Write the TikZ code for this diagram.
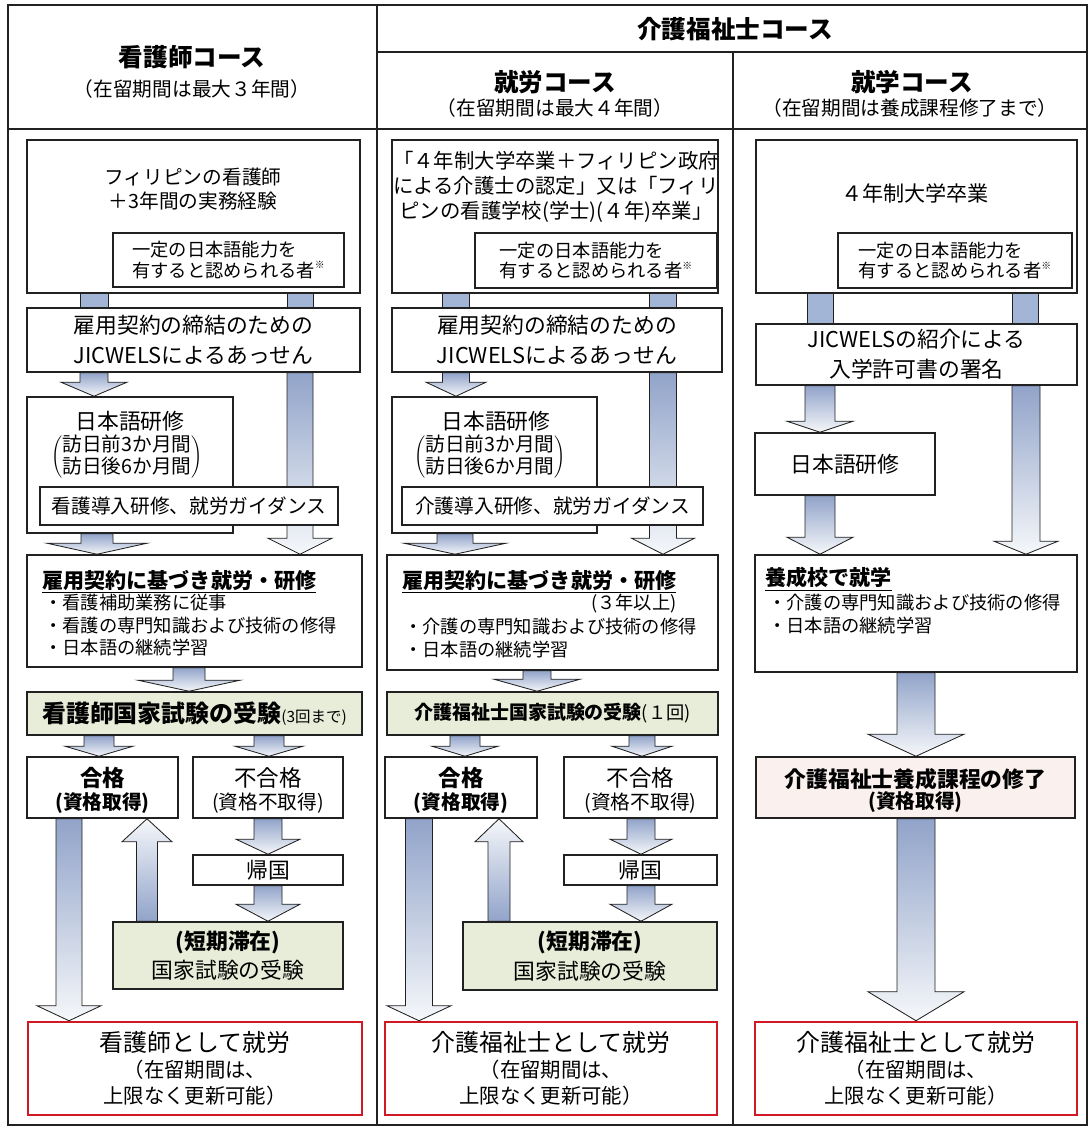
\documentclass[tikz,border=0pt]{standalone}
\usepackage{fontspec}
\setmainfont{Noto Sans CJK JP}
\usetikzlibrary{calc,fit,backgrounds}

\definecolor{lineg}{rgb}{0.13,0.13,0.13}
\definecolor{arrowdark}{rgb}{0.57,0.64,0.79}
\definecolor{arrowlight}{rgb}{0.96,0.97,0.98}
\definecolor{barblue}{rgb}{0.64,0.71,0.84}
\definecolor{examgreen}{rgb}{0.91,0.93,0.85}
\definecolor{donepink}{rgb}{0.98,0.94,0.93}
\definecolor{jobred}{rgb}{0.82,0.10,0.14}

\newcommand{\kome}{\raisebox{.45em}{\fontsize{7}{7}\selectfont ※}}
\newcommand{\downblock}[6]{\draw[blockarrow, top color=arrowdark, bottom color=arrowlight] (#1-#4,0 |- #2.south) -- ($(#1-#4,0 |- #3.north)+(0,-#6)$) -- ($(#1-#5,0 |- #3.north)+(0,-#6)$) -- (#1,0 |- #3.north) -- ($(#1+#5,0 |- #3.north)+(0,-#6)$) -- ($(#1+#4,0 |- #3.north)+(0,-#6)$) -- (#1+#4,0 |- #2.south) -- cycle;}
\newcommand{\upblock}[6]{\draw[blockarrow, top color=arrowlight, bottom color=arrowdark] (#1-#4,0 |- #2.north) -- ($(#1-#4,0 |- #3.south)+(0,#6)$) -- ($(#1-#5,0 |- #3.south)+(0,#6)$) -- (#1,0 |- #3.south) -- ($(#1+#5,0 |- #3.south)+(0,#6)$) -- ($(#1+#4,0 |- #3.south)+(0,#6)$) -- (#1+#4,0 |- #2.north) -- cycle;}
\newcommand{\linkbar}[4]{\draw[barfill] (#1-#2,0 |- #3.south) rectangle (#1+#2,0 |- #4.north);}

\begin{document}
\begin{tikzpicture}[x=0.025cm, y=-0.025cm,
    frame/.style={draw=lineg, line width=1pt},
    box/.style={draw=lineg, line width=1.1pt, fill=white, inner sep=0pt},
    greenbox/.style={box, fill=examgreen},
    pinkbox/.style={box, fill=donepink},
    jobbox/.style={box, draw=jobred, line width=1.8pt},
    txt/.style={inner sep=0pt, align=center},
    fhead/.style={font=\fontsize{17.5}{21}\selectfont\bfseries},
    fsub/.style={font=\fontsize{14}{17}\selectfont},
    fbody/.style={font=\fontsize{14}{16.5}\selectfont},
    fmid/.style={font=\fontsize{15.5}{21}\selectfont},
    fsmall/.style={font=\fontsize{13}{14.5}\selectfont},
    fitem/.style={font=\fontsize{13}{16}\selectfont},
    ftitle/.style={font=\fontsize{15}{18}\selectfont\bfseries},
    fpass/.style={font=\fontsize{16}{16.5}\selectfont\bfseries},
    ffail/.style={font=\fontsize{16}{16.5}\selectfont},
    fbrk/.style={font=\fontsize{14}{14}\selectfont},
    fjob/.style={font=\fontsize{14.5}{18.5}\selectfont},
    blockarrow/.style={draw=lineg, line width=0.6pt, line join=miter},
    barfill/.style={draw=lineg, line width=0.6pt, fill=barblue}]
\useasboundingbox (0,0) rectangle (1091,1130);
\draw[frame] (8,5) rectangle (1087,1125);
\draw[frame] (377,5) -- (377,1125) (733,52) -- (733,1125) (377,52) -- (1087,52) (8,129) -- (1087,129);
\node[txt, fhead] (nsHead) at (192,57) {看護師コース};
\node[txt, fsub] (nsTerm) at (192,89) {（在留期間は最大３年間）};
\node[txt, fhead] (cHead) at (735,29) {介護福祉士コース};
\node[txt, fhead] (cwHead) at (555,82) {就労コース};
\node[txt, fsub] (cwTerm) at (555,108) {（在留期間は最大４年間）};
\node[txt, fhead] (csHead) at (912,82) {就学コース};
\node[txt, fsub] (csTerm) at (910,108) {（在留期間は養成課程修了まで）};

\node[box, fit={(27,140) (360,293)}] (nsStart) {};
\node[txt, fbody] (nsStartText) at (193,189) {フィリピンの看護師\\＋3年間の実務経験};
\node[box, fit={(113,233) (344,287)}] (nsLang) {};
\node[txt, fsmall, align=left] (nsLangText) at (nsLang) {一定の日本語能力を\\有すると認められる者\kome};
\node[box, fit={(27,308) (360,372)}] (nsMatch) {};
\node[txt, fmid] (nsMatchText) at (nsMatch) {雇用契約の締結のための\\JICWELSによるあっせん};
\node[box, fit={(27,397) (233,533)}] (nsJp) {};
\node[txt, fmid] (nsJpText) at (130,421) {日本語研修};
\node[txt, fbrk] (nsJpTerm) at (127,457) {$\left(\begin{tabular}{@{}c@{}}訪日前3か月間\\訪日後6か月間\end{tabular}\right)$};
\node[box, fit={(40,487) (338,525)}] (nsGuide) {};
\node[txt, fbody] (nsGuideText) at (nsGuide) {看護導入研修、就労ガイダンス};
\node[box, fit={(27,555) (362,667)}] (nsWork) {};
\node[txt, ftitle, anchor=west] (nsWorkTitle) at (42,582) {\underline{雇用契約に基づき就労・研修}};
\node[txt, fitem, align=left, anchor=north west] (nsWorkItems) at (44,594) {・看護補助業務に従事\\・看護の専門知識および技術の修得\\・日本語の継続学習};
\node[greenbox, fit={(27,692) (362,735)}] (nsExam) {};
\node[txt] (nsExamText) at (nsExam) {{\fontsize{17}{20}\selectfont\bfseries 看護師国家試験の受験}{\fontsize{11}{13}\selectfont (3回まで)}};
\node[box, fit={(27,757) (178,818)}] (nsPass) {};
\node[txt, fpass] (nsPassText) at ($(nsPass)+(0,3)$) {合格\\{\fontsize{14}{16}\selectfont (資格取得)}};
\node[box, fit={(193,757) (343,818)}] (nsFail) {};
\node[txt, ffail] (nsFailText) at ($(nsFail)+(0,3)$) {不合格\\{\fontsize{14}{16}\selectfont (資格不取得)}};
\node[box, fit={(193,855) (343,885)}] (nsHome) {};
\node[txt, fmid] (nsHomeText) at (nsHome) {帰国};
\node[greenbox, fit={(113,922) (343,989)}] (nsRetry) {};
\node[txt, fmid] (nsRetryText) at (nsRetry) {{\bfseries (短期滞在)}\\国家試験の受験};
\node[jobbox, fit={(28,1022) (362,1115)}] (nsJob) {};
\node[txt, fjob] (nsJobText) at (nsJob) {{\fontsize{17}{20}\selectfont 看護師として就労}\\（在留期間は、\\上限なく更新可能）};

\node[box, fit={(392,140) (718,293)}] (cwStart) {};
\node[txt, font=\fontsize{14.5}{17.7}\selectfont] (cwStartText) at (556,187) {「４年制大学卒業＋フィリピン政府\\による介護士の認定」又は「フィリ\\ピンの看護学校(学士)(４年)卒業」};
\node[box, fit={(475,233) (717,288)}] (cwLang) {};
\node[txt, fsmall, align=left] (cwLangText) at (cwLang) {一定の日本語能力を\\有すると認められる者\kome};
\node[box, fit={(392,308) (722,372)}] (cwMatch) {};
\node[txt, fmid] (cwMatchText) at (cwMatch) {雇用契約の締結のための\\JICWELSによるあっせん};
\node[box, fit={(392,397) (597,533)}] (cwJp) {};
\node[txt, fmid] (cwJpText) at (496,421) {日本語研修};
\node[txt, fbrk] (cwJpTerm) at (490,457) {$\left(\begin{tabular}{@{}c@{}}訪日前3か月間\\訪日後6か月間\end{tabular}\right)$};
\node[box, fit={(402,487) (703,525)}] (cwGuide) {};
\node[txt, fbody] (cwGuideText) at (cwGuide) {介護導入研修、就労ガイダンス};
\node[box, fit={(387,555) (718,670)}] (cwWork) {};
\node[txt, ftitle, anchor=west] (cwWorkTitle) at (402,582) {\underline{雇用契約に基づき就労・研修}};
\node[txt, fitem, anchor=east] (cwWorkTerm) at (677,604) {(３年以上)};
\node[txt, fitem, align=left, anchor=north west] (cwWorkItems) at (404,618) {・介護の専門知識および技術の修得\\・日本語の継続学習};
\node[greenbox, fit={(387,692) (718,735)}] (cwExam) {};
\node[txt] (cwExamText) at (cwExam) {{\fontsize{13.5}{16}\selectfont\bfseries 介護福祉士国家試験の受験}{\fontsize{13}{16}\selectfont (１回)}};
\node[box, fit={(385,757) (537,818)}] (cwPass) {};
\node[txt, fpass] (cwPassText) at ($(cwPass)+(0,3)$) {合格\\{\fontsize{14}{16}\selectfont (資格取得)}};
\node[box, fit={(564,757) (717,818)}] (cwFail) {};
\node[txt, ffail] (cwFailText) at ($(cwFail)+(0,3)$) {不合格\\{\fontsize{14}{16}\selectfont (資格不取得)}};
\node[box, fit={(564,855) (717,885)}] (cwHome) {};
\node[txt, fmid] (cwHomeText) at (cwHome) {帰国};
\node[greenbox, fit={(463,922) (717,990)}] (cwRetry) {};
\node[txt, fmid] (cwRetryText) at (cwRetry) {{\bfseries (短期滞在)}\\国家試験の受験};
\node[jobbox, fit={(385,1022) (717,1115)}] (cwJob) {};
\node[txt, fjob] (cwJobText) at (cwJob) {{\fontsize{17}{20}\selectfont 介護福祉士として就労}\\（在留期間は、\\上限なく更新可能）};

\node[box, fit={(756,140) (1077,293)}] (csStart) {};
\node[txt, font=\fontsize{15}{18}\selectfont] (csStartText) at (915,193) {４年制大学卒業};
\node[box, fit={(838,233) (1072,288)}] (csLang) {};
\node[txt, fsmall, align=left] (csLangText) at (csLang) {一定の日本語能力を\\有すると認められる者\kome};
\node[box, fit={(756,324) (1077,385)}] (csIntro) {};
\node[txt, fmid] (csIntroText) at (csIntro) {JICWELSの紹介による\\入学許可書の署名};
\node[box, fit={(755,433) (935,495)}] (csJp) {};
\node[txt, fmid] (csJpText) at (csJp) {日本語研修};
\node[box, fit={(755,555) (1077,672)}] (csSchool) {};
\node[txt, ftitle, anchor=west] (csSchoolTitle) at (765,579) {\underline{養成校で就学}};
\node[txt, fitem, align=left, anchor=north west] (csSchoolItems) at (768,594) {・介護の専門知識および技術の修得\\・日本語の継続学習};
\node[pinkbox, fit={(756,757) (1075,818)}] (csDone) {};
\node[txt] (csDoneText) at ($(csDone)+(0,3)$) {{\fontsize{15.5}{20}\selectfont\bfseries 介護福祉士養成課程の修了}\\{\fontsize{14}{16}\selectfont\bfseries (資格取得)}};
\node[jobbox, fit={(755,1022) (1077,1115)}] (csJob) {};
\node[txt, fjob] (csJobText) at (csJob) {{\fontsize{17}{20}\selectfont 介護福祉士として就労}\\（在留期間は、\\上限なく更新可能）};

\begin{scope}[on background layer]
\linkbar{94}{14}{nsStart}{nsMatch}
\linkbar{300}{13}{nsStart}{nsMatch}
\downblock{94}{nsMatch}{nsJp}{14}{33}{14}
\downblock{300}{nsMatch}{nsWork}{13}{32}{16}
\downblock{97}{nsJp}{nsWork}{16}{50}{11}
\downblock{189}{nsWork}{nsExam}{16}{51}{11}
\downblock{99}{nsExam}{nsPass}{15}{34}{10}
\downblock{269}{nsExam}{nsFail}{15}{34}{10}
\downblock{268}{nsFail}{nsHome}{14}{32}{15}
\downblock{268}{nsHome}{nsRetry}{14}{32}{17}
\upblock{147}{nsRetry}{nsPass}{10.5}{25}{23}
\downblock{69}{nsPass}{nsJob}{13}{32}{15}
\linkbar{456}{13.5}{cwStart}{cwMatch}
\linkbar{663}{13.5}{cwStart}{cwMatch}
\downblock{456}{cwMatch}{cwJp}{13.5}{30}{14}
\downblock{663}{cwMatch}{cwWork}{13.5}{31.5}{16}
\downblock{455}{cwJp}{cwWork}{18}{51}{11}
\downblock{537}{cwWork}{cwExam}{14}{43}{12}
\downblock{465}{cwExam}{cwPass}{15}{33}{10}
\downblock{642}{cwExam}{cwFail}{13}{30}{10}
\downblock{641}{cwFail}{cwHome}{14}{31}{15}
\downblock{641}{cwHome}{cwRetry}{14}{31}{17}
\upblock{499}{cwRetry}{cwPass}{11}{24}{23}
\downblock{419}{cwPass}{cwJob}{13.5}{32}{15}
\linkbar{820}{13}{csStart}{csIntro}
\linkbar{1025}{13}{csStart}{csIntro}
\downblock{820}{csIntro}{csJp}{15}{33}{11}
\downblock{820}{csJp}{csSchool}{15}{33}{17}
\downblock{1026}{csIntro}{csSchool}{14}{32}{13}
\downblock{916}{csSchool}{csDone}{19}{48}{22}
\downblock{916}{csDone}{csJob}{19}{48}{29}
\end{scope}
\end{tikzpicture}
\end{document}
